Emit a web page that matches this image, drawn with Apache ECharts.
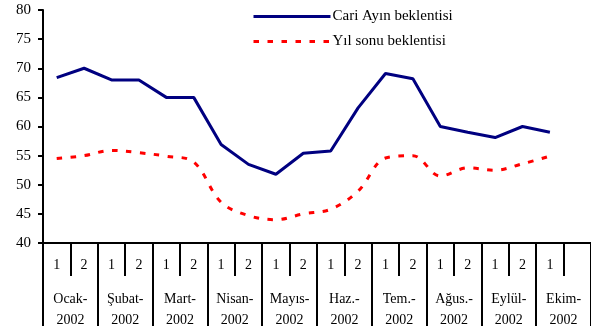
<!DOCTYPE html>
<html>
<head>
<meta charset="utf-8">
<script src="https://cdn.jsdelivr.net/npm/echarts@6/dist/echarts.min.js"></script>
<style>
  html, body { margin: 0; padding: 0; background: #fff; }
  #chart { width: 591px; height: 331px; }
</style>
</head>
<body>
<div id="chart"></div>
<script>
// Half-month survey periods, Jan–Oct 2002
var months = ['Ocak-\n2002', 'Şubat-\n2002', 'Mart-\n2002', 'Nisan-\n2002', 'Mayıs-\n2002',
              'Haz.-\n2002', 'Tem.-\n2002', 'Ağus.-\n2002', 'Eylül-\n2002', 'Ekim-\n2002'];
var halves = ['1', '2', '1', '2', '1', '2', '1', '2', '1', '2',
              '1', '2', '1', '2', '1', '2', '1', '2', '1', ''];

var cariAy = [68.4, 70.0, 68.0, 68.0, 65.0, 65.0, 56.9, 53.5, 51.8, 55.4,
              55.8, 63.2, 69.1, 68.2, 60.0, 59.0, 58.1, 60.0, 59.0];
var yilSonu = [54.5, 55.0, 55.9, 55.5, 54.9, 53.9, 47.0, 44.7, 44.0, 45.0,
               45.8, 48.9, 54.6, 55.0, 51.5, 52.9, 52.5, 53.6, 54.9];

var seriesNames = ['Cari Ayın beklentisi', 'Yıl sonu beklentisi'];
var yMin = 40, yMax = 80, yStep = 5;

var FONT = '"Liberation Serif", "Times New Roman", serif';
var BLUE = '#000080', RED = '#ff0000';
var blueLine = { color: BLUE, width: 3 };
var redLine = { color: RED, width: 3, type: [5.5, 8.5] };

var chart = echarts.init(document.getElementById('chart'), null, { renderer: 'canvas' });

chart.setOption({
  animation: false,
  backgroundColor: '#ffffff',
  grid: { left: 43, top: 10, width: 550, height: 234, containLabel: false },
  legend: {
    orient: 'vertical',
    left: 247,
    top: 4,
    itemWidth: 77,
    itemHeight: 14,
    itemGap: 10,
    // line-only keys: hide the point marker, keep the stroke
    itemStyle: { opacity: 0 },
    textStyle: { fontFamily: FONT, fontSize: 15, color: '#000', padding: [0, 0, 0, -3] },
    data: [
      { name: seriesNames[0], lineStyle: blueLine },
      { name: seriesNames[1], lineStyle: redLine }
    ]
  },
  xAxis: [
    {
      type: 'category',
      data: halves,
      boundaryGap: true,
      axisLine: { show: true, lineStyle: { color: '#000', width: 2 } },
      axisTick: { show: true, interval: 0, length: 33, lineStyle: { color: '#000', width: 2 } },
      axisLabel: { interval: 0, margin: 15, fontFamily: FONT, fontSize: 14, color: '#000' },
      splitLine: { show: false }
    },
    {
      type: 'category',
      data: months,
      position: 'bottom',
      boundaryGap: true,
      axisLine: { show: false },
      axisTick: { show: true, interval: 0, length: 83, lineStyle: { color: '#000', width: 2 } },
      axisLabel: { interval: 0, margin: 46, fontFamily: FONT, fontSize: 14, lineHeight: 21, color: '#000' },
      splitLine: { show: false }
    }
  ],
  yAxis: {
    type: 'value',
    min: yMin,
    max: yMax,
    interval: yStep,
    axisLine: { show: true, lineStyle: { color: '#000', width: 2 } },
    axisTick: { show: true, length: 5, lineStyle: { color: '#000', width: 2 } },
    axisLabel: { margin: 12, fontFamily: FONT, fontSize: 15, color: '#000' },
    splitLine: { show: false }
  },
  series: [
    {
      name: seriesNames[0],
      type: 'line',
      xAxisIndex: 0,
      data: cariAy,
      symbol: 'none',
      itemStyle: { color: BLUE },
      lineStyle: blueLine
    },
    {
      name: seriesNames[1],
      type: 'line',
      xAxisIndex: 0,
      data: yilSonu,
      symbol: 'none',
      smooth: 0.35,
      itemStyle: { color: RED },
      lineStyle: redLine
    }
  ]
});
</script>
</body>
</html>
